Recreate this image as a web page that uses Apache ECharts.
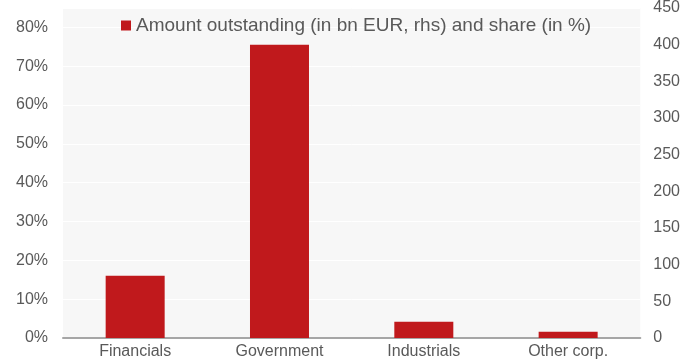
<!DOCTYPE html>
<html>
<head>
<meta charset="utf-8">
<script src="https://cdn.jsdelivr.net/npm/echarts@6/dist/echarts.min.js"></script>
<style>
  html, body { margin: 0; padding: 0; background: #ffffff; }
  #chart { width: 683px; height: 361px; }
</style>
</head>
<body>
<div id="chart"></div>
<script>
// Sectors and amounts outstanding (bn EUR, right axis)
const categories = ['Financials', 'Government', 'Industrials', 'Other corp.'];
const amounts = [85, 400, 22, 8.5];
const seriesName = 'Amount outstanding (in bn EUR, rhs) and share (in %)';

// Axis ranges: share (left, %) and amount (right, bn EUR)
const shareMax = 85;
const shareStep = 10;
const amountMax = 450;
const amountStep = 50;

const FONT = '"Liberation Sans", Arial, sans-serif';
const TEXT = '#595959';
const RED = '#C0191C';

const chart = echarts.init(document.getElementById('chart'), null, { renderer: 'canvas' });

chart.setOption({
  animation: false,
  backgroundColor: '#ffffff',
  textStyle: { fontFamily: FONT },
  grid: {
    left: 63, right: 41, top: 4, bottom: 23,
    show: true, backgroundColor: '#f7f7f7', borderWidth: 0
  },
  legend: {
    left: 121, top: 16, padding: 0,
    itemWidth: 10, itemHeight: 10,
    icon: 'rect',
    textStyle: { fontFamily: FONT, fontSize: 19, color: TEXT },
    data: [seriesName]
  },
  xAxis: {
    type: 'category',
    data: categories,
    axisLine: { lineStyle: { color: '#a6a6a6', width: 2 } },
    axisTick: { show: false },
    axisLabel: { color: TEXT, fontSize: 16, fontFamily: FONT, margin: 6 }
  },
  yAxis: [
    {
      type: 'value',
      min: 0, max: shareMax, interval: shareStep,
      axisLine: { show: false },
      axisTick: { show: false },
      splitLine: { lineStyle: { color: '#ffffff', width: 1 } },
      axisLabel: {
        color: TEXT, fontSize: 16, fontFamily: FONT, margin: 15,
        formatter: v => (v % shareStep === 0 ? v + '%' : '')
      }
    },
    {
      type: 'value',
      position: 'right',
      min: 0, max: amountMax, interval: amountStep,
      axisLine: { show: false },
      axisTick: { show: false },
      splitLine: { show: false },
      axisLabel: { color: TEXT, fontSize: 16, fontFamily: FONT, margin: 13 }
    }
  ],
  series: [
    {
      name: seriesName,
      type: 'bar',
      yAxisIndex: 1,
      data: amounts,
      barWidth: 59,
      itemStyle: { color: RED }
    }
  ]
});
</script>
</body>
</html>
